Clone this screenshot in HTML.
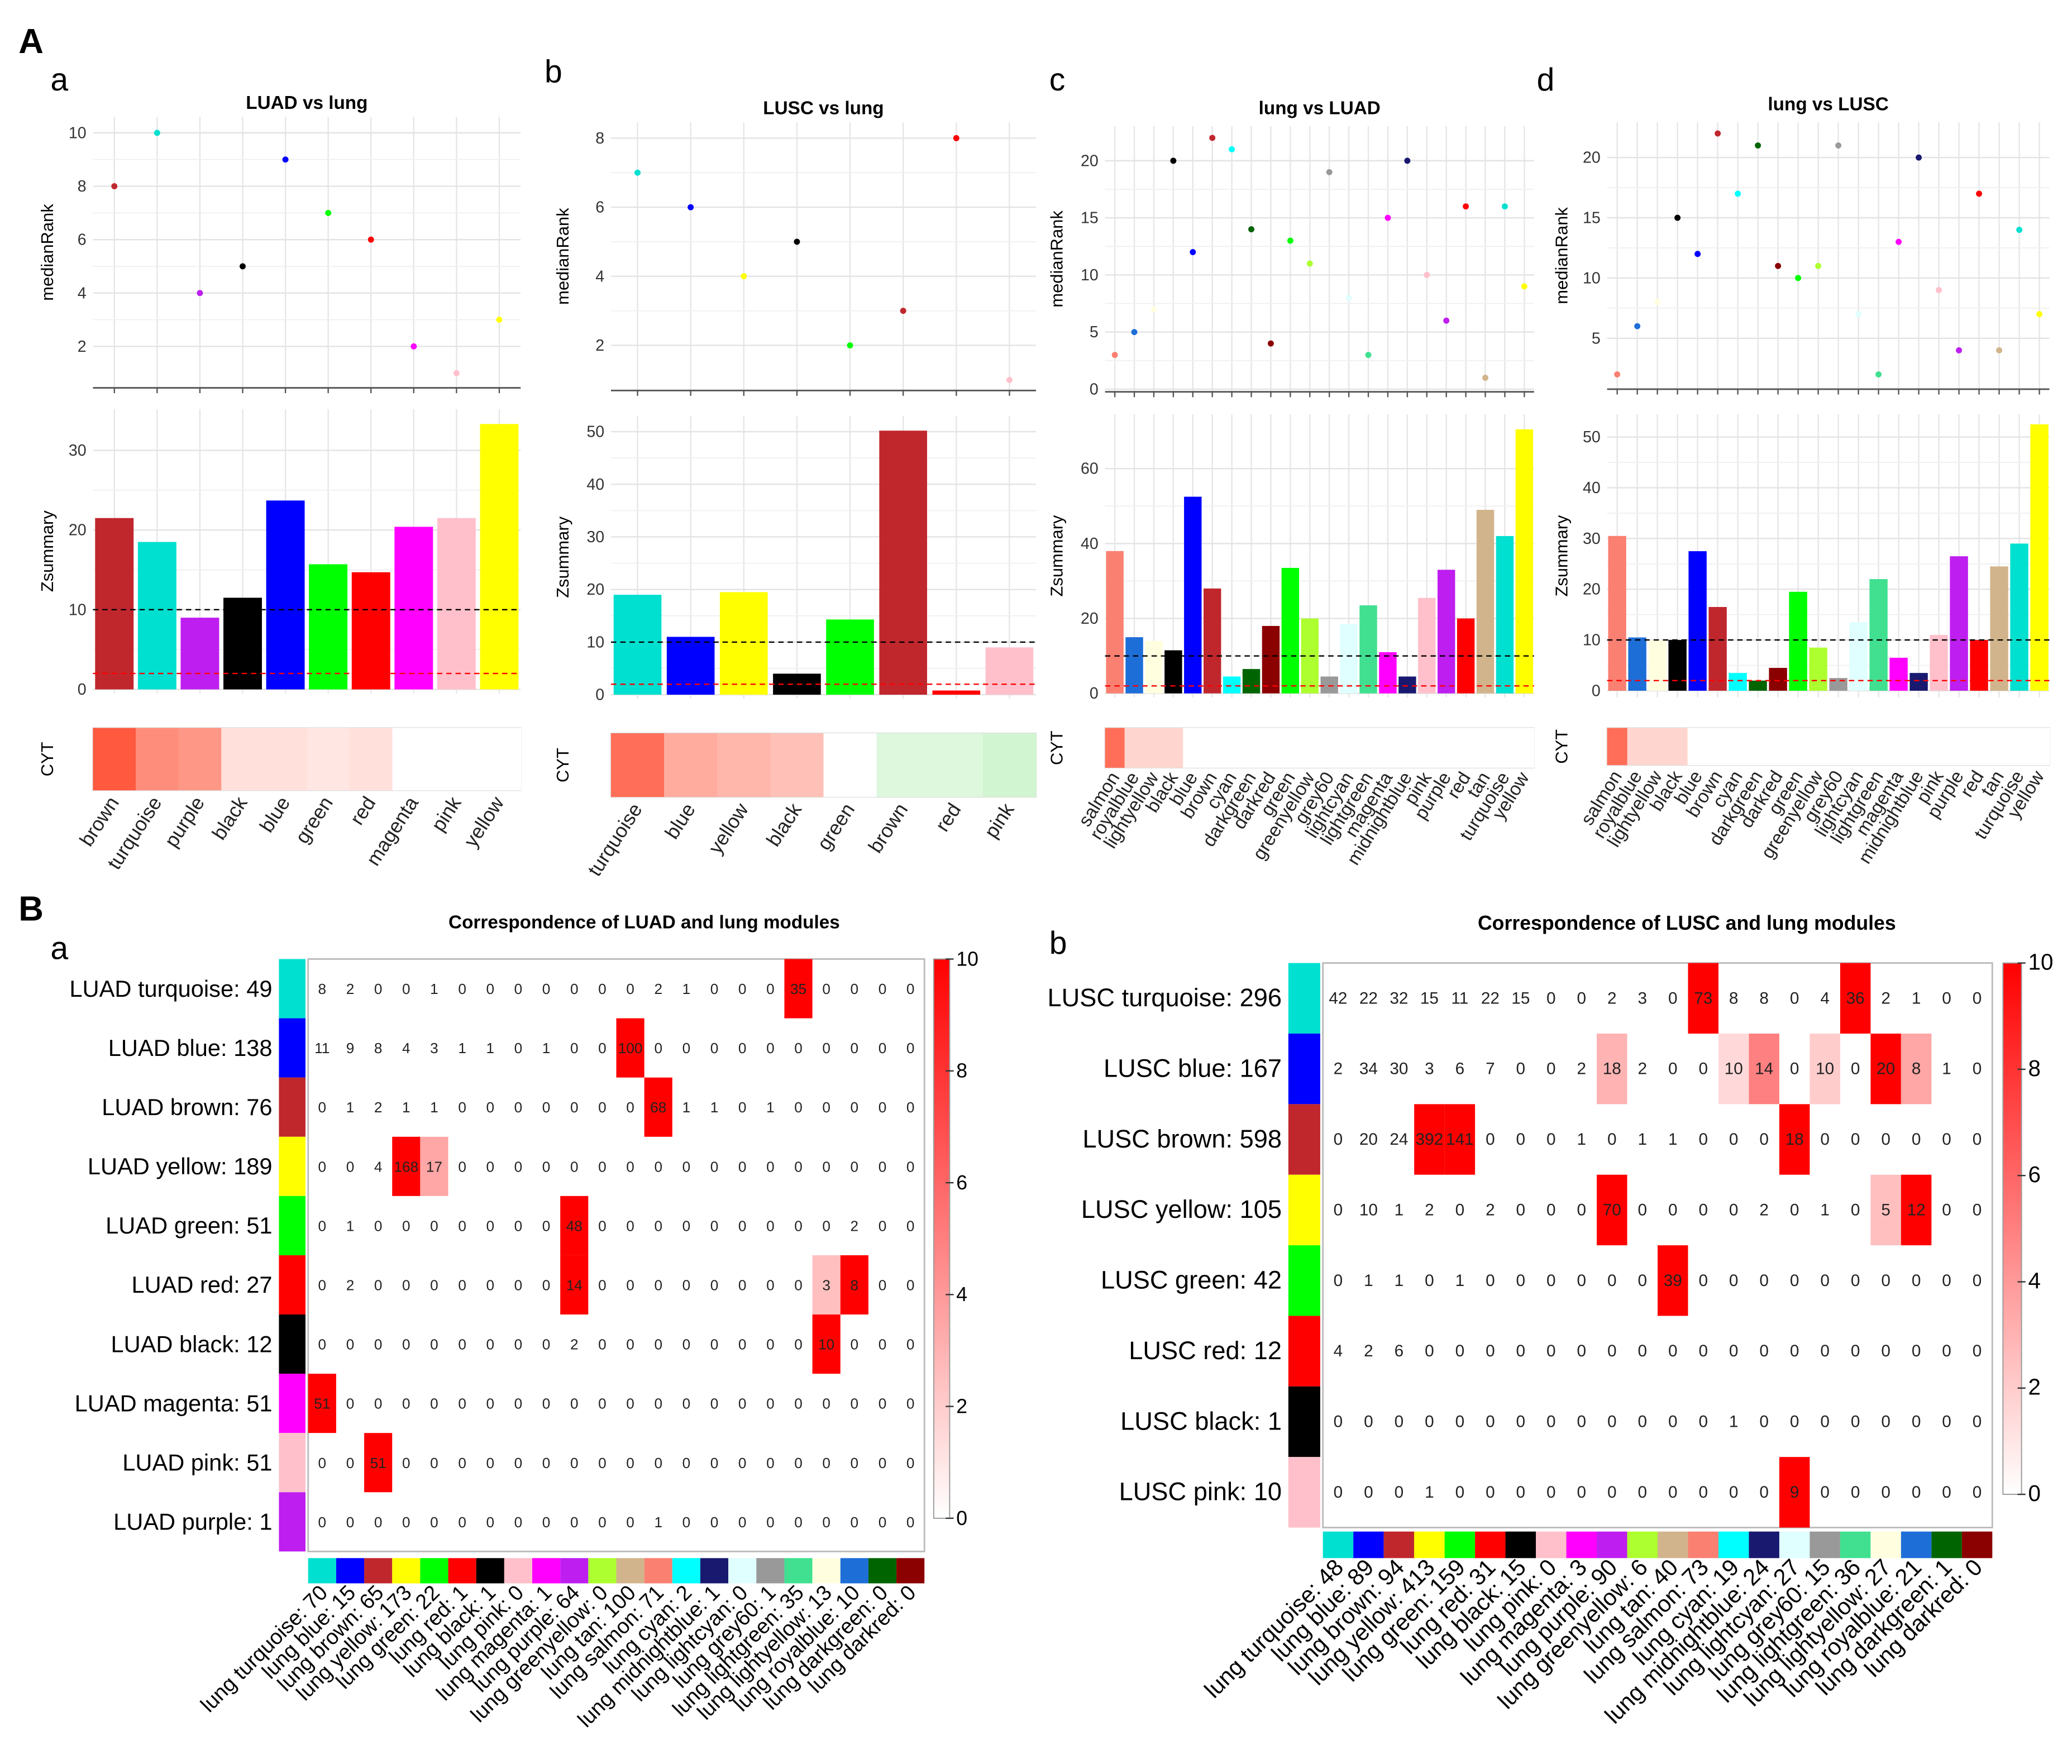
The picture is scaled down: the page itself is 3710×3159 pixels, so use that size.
<!DOCTYPE html>
<html><head><meta charset="utf-8"><style>
html,body{margin:0;padding:0;background:#fff;}
svg{display:block;font-family:"Liberation Sans",sans-serif;}
</style></head><body>
<svg id="fig" width="3710" height="3159" viewBox="0 0 1560 1328" preserveAspectRatio="none" xmlns="http://www.w3.org/2000/svg"></svg>
<script>
// ---------- Data: Panel A ----------
const catA = ['brown','turquoise','purple','black','blue','green','red','magenta','pink','yellow'];
const rankA = [8,10,4,5,9,7,6,2,1,3];
const zsumA = [21.5,18.5,9,11.5,23.7,15.7,14.7,20.4,21.5,33.3];
const cytA = [0.8,0.55,0.5,0.15,0.15,0.12,0.15,0,0,0];

const catB = ['turquoise','blue','yellow','black','green','brown','red','pink'];
const rankB = [7,6,4,5,2,3,8,1];
const zsumB = [19,11,19.5,4,14.3,50.2,0.8,9];
const cytB = [0.7,0.4,0.35,0.3,0,-0.15,-0.15,-0.2];

const catC = ['salmon','royalblue','lightyellow','black','blue','brown','cyan','darkgreen','darkred','green','greenyellow','grey60','lightcyan','lightgreen','magenta','midnightblue','pink','purple','red','tan','turquoise','yellow'];
const rankC = [3,5,7,20,12,22,21,14,4,13,11,19,8,3,15,20,10,6,16,1,16,9];
const zsumC = [38,15,14,11.5,52.5,28,4.5,6.5,18,33.5,20,4.5,18.5,23.5,11,4.5,25.5,33,20,49,42,70.5];
const cytC = [0.7,0.2,0.2,0.2,0,0,0,0,0,0,0,0,0,0,0,0,0,0,0,0,0,0];

const catD = catC.slice();
const rankD = [2,6,8,15,12,22,17,21,11,10,11,21,7,2,13,20,9,4,17,4,14,7];
const zsumD = [30.5,10.5,10,10,27.5,16.5,3.5,2,4.5,19.5,8.5,2.5,13.5,22,6.5,3.5,11,26.5,10,24.5,29,52.5];
const cytD = [0.7,0.2,0.2,0.2,0,0,0,0,0,0,0,0,0,0,0,0,0,0,0,0,0,0];

// ---------- Data: Panel B ----------
const lungMods = ['turquoise','blue','brown','yellow','green','red','black','pink','magenta','purple','greenyellow','tan','salmon','cyan','midnightblue','lightcyan','grey60','lightgreen','lightyellow','royalblue','darkgreen','darkred'];
const luadRows = ['turquoise','blue','brown','yellow','green','red','black','magenta','pink','purple'];
const luadSizes = [49,138,76,189,51,27,12,51,51,1];
const lungSizesA = [70,15,65,173,22,1,1,0,1,64,0,100,71,2,1,0,1,35,13,10,0,0];
const countsA = [
[8,2,0,0,1,0,0,0,0,0,0,0,2,1,0,0,0,35,0,0,0,0],
[11,9,8,4,3,1,1,0,1,0,0,100,0,0,0,0,0,0,0,0,0,0],
[0,1,2,1,1,0,0,0,0,0,0,0,68,1,1,0,1,0,0,0,0,0],
[0,0,4,168,17,0,0,0,0,0,0,0,0,0,0,0,0,0,0,0,0,0],
[0,1,0,0,0,0,0,0,0,48,0,0,0,0,0,0,0,0,0,2,0,0],
[0,2,0,0,0,0,0,0,0,14,0,0,0,0,0,0,0,0,3,8,0,0],
[0,0,0,0,0,0,0,0,0,2,0,0,0,0,0,0,0,0,10,0,0,0],
[51,0,0,0,0,0,0,0,0,0,0,0,0,0,0,0,0,0,0,0,0,0],
[0,0,51,0,0,0,0,0,0,0,0,0,0,0,0,0,0,0,0,0,0,0],
[0,0,0,0,0,0,0,0,0,0,0,0,1,0,0,0,0,0,0,0,0,0]];
const pvalA = [
[0,0,0,0,0,0,0,0,0,0,0,0,0,0,0,0,0,10,0,0,0,0],
[0,0,0,0,0,0,0,0,0,0,0,10,0,0,0,0,0,0,0,0,0,0],
[0,0,0,0,0,0,0,0,0,0,0,0,10,0,0,0,0,0,0,0,0,0],
[0,0,0,10,3.5,0,0,0,0,0,0,0,0,0,0,0,0,0,0,0,0,0],
[0,0,0,0,0,0,0,0,0,10,0,0,0,0,0,0,0,0,0,0,0,0],
[0,0,0,0,0,0,0,0,0,10,0,0,0,0,0,0,0,0,2.5,10,0,0],
[0,0,0,0,0,0,0,0,0,0,0,0,0,0,0,0,0,0,10,0,0,0],
[10,0,0,0,0,0,0,0,0,0,0,0,0,0,0,0,0,0,0,0,0,0],
[0,0,10,0,0,0,0,0,0,0,0,0,0,0,0,0,0,0,0,0,0,0],
[0,0,0,0,0,0,0,0,0,0,0,0,0,0,0,0,0,0,0,0,0,0]];

const luscRows = ['turquoise','blue','brown','yellow','green','red','black','pink'];
const luscSizes = [296,167,598,105,42,12,1,10];
const lungSizesB = [48,89,94,413,159,31,15,0,3,90,6,40,73,19,24,27,15,36,27,21,1,0];
const countsB = [
[42,22,32,15,11,22,15,0,0,2,3,0,73,8,8,0,4,36,2,1,0,0],
[2,34,30,3,6,7,0,0,2,18,2,0,0,10,14,0,10,0,20,8,1,0],
[0,20,24,392,141,0,0,0,1,0,1,1,0,0,0,18,0,0,0,0,0,0],
[0,10,1,2,0,2,0,0,0,70,0,0,0,0,2,0,1,0,5,12,0,0],
[0,1,1,0,1,0,0,0,0,0,0,39,0,0,0,0,0,0,0,0,0,0],
[4,2,6,0,0,0,0,0,0,0,0,0,0,0,0,0,0,0,0,0,0,0],
[0,0,0,0,0,0,0,0,0,0,0,0,0,1,0,0,0,0,0,0,0,0],
[0,0,0,1,0,0,0,0,0,0,0,0,0,0,0,9,0,0,0,0,0,0]];
const pvalB = [
[0,0,0,0,0,0,0,0,0,0,0,0,10,0,0,0,0,10,0,0,0,0],
[0,0,0,0,0,0,0,0,0,3,0,0,0,1.5,5,0,2,0,10,3.5,0,0],
[0,0,0,10,10,0,0,0,0,0,0,0,0,0,0,10,0,0,0,0,0,0],
[0,0,0,0,0,0,0,0,0,10,0,0,0,0,0,0,0,0,2.5,10,0,0],
[0,0,0,0,0,0,0,0,0,0,0,10,0,0,0,0,0,0,0,0,0,0],
[0,0,0,0,0,0,0,0,0,0,0,0,0,0,0,0,0,0,0,0,0,0],
[0,0,0,0,0,0,0,0,0,0,0,0,0,0,0,0,0,0,0,0,0,0],
[0,0,0,0,0,0,0,0,0,0,0,0,0,0,0,10,0,0,0,0,0,0]];
const legendTicks = [0,2,4,6,8,10];

const COL = {turquoise:'#00E0D0',blue:'#0000FF',brown:'#C0272D',yellow:'#FFFF00',green:'#00FF00',red:'#FF0000',black:'#000000',pink:'#FFC0CB',magenta:'#FF00FF',purple:'#BE1EF0',greenyellow:'#ADFF2F',tan:'#D2B48C',salmon:'#FA8072',cyan:'#00FFFF',midnightblue:'#191970',lightcyan:'#E0FFFF',grey60:'#999999',lightgreen:'#40E090',lightyellow:'#FFFFE0',royalblue:'#1E6ED8',darkgreen:'#006400',darkred:'#8B0000'};

const NS='http://www.w3.org/2000/svg';
const svg=document.getElementById('fig');
function mk(tag,attrs,parent,text){const e=document.createElementNS(NS,tag);for(const k in attrs)e.setAttribute(k,attrs[k]);if(text!==undefined)e.textContent=text;(parent||svg).appendChild(e);return e;}
function mix(t,r,g,b){t=Math.max(0,Math.min(1,t));return 'rgb('+Math.round(255+(r-255)*t)+','+Math.round(255+(g-255)*t)+','+Math.round(255+(b-255)*t)+')';}

[['A',14,40,26],['a',38,68,24],['b',410,62,24],['c',790,68,24],['d',1157,68,24],['B',14,693,26],['a',38,722,24],['b',790,718,24]].forEach(p=>{
  const t=mk('text',{x:p[1],y:p[2],'font-size':p[3],'font-weight':(p[0]==='A'||p[0]==='B')?'bold':'normal',fill:'#000'},svg,p[0]);
  
  
});

function panelA(L,cats,rank,zsum,cyt){
  const g=mk('g',{});
  
  
  const n=cats.length, bw=(L.x1-L.x0)/n;
  const cx=i=>L.x0+bw*(i+0.5);
  const ry=v=>L.rZero-L.rK*v, zy=v=>L.zZero-L.zK*v;
  const tt=mk('text',{x:(L.x0+L.x1)/2,y:L.titleY,'text-anchor':'middle','font-size':14,'font-weight':'bold'},g,L.title);
  
  
  for(let i=0;i<n;i++){const l=mk('line',{x1:cx(i),x2:cx(i),y1:L.rTop,y2:L.rBot,stroke:'#E6E6E6','stroke-width':1},g);
    }
  L.rTicks.forEach((v,k)=>{
    const half=(k<L.rTicks.length-1)?(v+L.rTicks[k+1])/2:null;
    const l=mk('line',{x1:L.x0,x2:L.x1,y1:ry(v),y2:ry(v),stroke:'#E3E3E3','stroke-width':1},g);
    
    if(half!==null){const m=mk('line',{x1:L.x0,x2:L.x1,y1:ry(half),y2:ry(half),stroke:'#F0F0F0','stroke-width':0.8},g);
      }
    const t=mk('text',{x:L.x0-5,y:ry(v)+4,'text-anchor':'end','font-size':12,fill:'#333'},g,String(v));
    
  });
  const ax=mk('line',{x1:L.x0,x2:L.x1,y1:L.rBot,y2:L.rBot,stroke:'#555','stroke-width':1.2},g);
  
  for(let i=0;i<n;i++){const tk=mk('line',{x1:cx(i),x2:cx(i),y1:L.rBot,y2:L.rBot+4,stroke:'#555'},g);
    }
  const yt=mk('text',{transform:'translate('+L.yTitleX+','+(L.rTop+L.rBot)/2+') rotate(-90)','text-anchor':'middle','font-size':13},g,'medianRank');
  
  rank.forEach((v,i)=>{const c=mk('circle',{cx:cx(i),cy:ry(v),r:2.3,fill:COL[cats[i]]},g);
    });
  for(let i=0;i<n;i++){const l=mk('line',{x1:cx(i),x2:cx(i),y1:L.zTop,y2:L.zBot,stroke:'#E6E6E6'},g);
    }
  L.zTicks.forEach((v,k)=>{
    const l=mk('line',{x1:L.x0,x2:L.x1,y1:zy(v),y2:zy(v),stroke:'#E3E3E3'},g);
    
    if(k<L.zTicks.length-1){const h=(v+L.zTicks[k+1])/2;const m=mk('line',{x1:L.x0,x2:L.x1,y1:zy(h),y2:zy(h),stroke:'#F0F0F0','stroke-width':0.8},g);
      }
    const t=mk('text',{x:L.x0-5,y:zy(v)+4,'text-anchor':'end','font-size':12,fill:'#333'},g,String(v));
    
  });
  const yt2=mk('text',{transform:'translate('+L.yTitleX+','+(L.zTop+L.zBot)/2+') rotate(-90)','text-anchor':'middle','font-size':13},g,'Zsummary');
  
  zsum.forEach((v,i)=>{const r=mk('rect',{x:cx(i)-bw*0.45,y:zy(v),width:bw*0.9,height:zy(0)-zy(v),fill:COL[cats[i]]},g);
    });
  const d1=mk('line',{x1:L.x0,x2:L.x1,y1:zy(10),y2:zy(10),stroke:'#000','stroke-dasharray':'4,3','stroke-width':1},g);
  
  const d2=mk('line',{x1:L.x0,x2:L.x1,y1:zy(2),y2:zy(2),stroke:'#FF0000','stroke-dasharray':'4,3','stroke-width':1},g);
  
  const sb=mk('rect',{x:L.x0,y:L.cTop,width:L.x1-L.x0,height:L.cBot-L.cTop,fill:'#fff',stroke:'#DDD'},g);
  
  cyt.forEach((v,i)=>{const f=v>=0?mix(v/0.8*0.85,255,60,30):mix(-v/0.2*0.18,0,200,0);
    const r=mk('rect',{x:L.x0+bw*i,y:L.cTop,width:bw+0.3,height:L.cBot-L.cTop,fill:f},g);
    });
  const yt3=mk('text',{transform:'translate('+L.yTitleX+','+(L.cTop+L.cBot)/2+') rotate(-90)','text-anchor':'middle','font-size':13},g,'CYT');
  
  cats.forEach((c,i)=>{const t=mk('text',{transform:'translate('+(cx(i)+4)+','+L.labY+') rotate('+L.rot+')','text-anchor':'end','font-size':L.labFs,fill:'#222'},g,c);
    });
}
panelA({id:'a',title:'LUAD vs lung',titleY:82,x0:70,x1:392,rTop:88,rBot:292,rZero:301,rK:20.1,rTicks:[2,4,6,8,10],zTop:308,zBot:522,zZero:519,zK:6,zTicks:[0,10,20,30],cTop:548,cBot:595,yTitleX:40,labY:604,rot:-57,labFs:15},catA,rankA,zsumA,cytA);
panelA({id:'b',title:'LUSC vs lung',titleY:86,x0:460,x1:780,rTop:92,rBot:294,rZero:312,rK:26,rTicks:[2,4,6,8],zTop:313,zBot:526,zZero:523,zK:3.96,zTicks:[0,10,20,30,40,50],cTop:552,cBot:600,yTitleX:428,labY:609,rot:-57,labFs:15},catB,rankB,zsumB,cytB);
panelA({id:'c',title:'lung vs LUAD',titleY:86,x0:832,x1:1155,rTop:95,rBot:295,rZero:293,rK:8.6,rTicks:[0,5,10,15,20],zTop:312,zBot:525,zZero:522,zK:2.82,zTicks:[0,20,40,60],cTop:548,cBot:578,yTitleX:800,labY:585,rot:-58,labFs:14},catC,rankC,zsumC,cytC);
panelA({id:'d',title:'lung vs LUSC',titleY:83,x0:1210,x1:1543,rTop:92,rBot:293,rZero:300,rK:9.07,rTicks:[5,10,15,20],zTop:312,zBot:525,zZero:520,zK:3.82,zTicks:[0,10,20,30,40,50],cTop:548,cBot:576,yTitleX:1180,labY:584,rot:-58,labFs:14},catD,rankD,zsumD,cytD);

function heat(L,prefix,rows,sizes,lsizes,counts,pv){
  const g=mk('g',{});
  
  
  const nr=rows.length,nc=lungMods.length;
  const cw=(L.x1-L.x0)/nc, rh=(L.y1-L.y0)/nr;
  const t=mk('text',{x:L.titleX,y:L.titleY,'text-anchor':'middle','font-size':L.titleFs,'font-weight':'bold'},g,'Correspondence of '+prefix+' and lung modules');
  
  const bd=mk('rect',{x:L.x0,y:L.y0,width:L.x1-L.x0,height:L.y1-L.y0,fill:'#fff',stroke:'#BBB','stroke-width':1.2},g);
  
  rows.forEach((r,i)=>{
    const s=mk('rect',{x:L.sx,y:L.y0+rh*i,width:L.x0-L.sx-2,height:rh,fill:COL[r]},g);
    
    const lb=mk('text',{x:L.sx-5,y:L.y0+rh*(i+0.5)+6,'text-anchor':'end','font-size':L.rowFs},g,prefix+' '+r+': '+sizes[i]);
    
    for(let j=0;j<nc;j++){
      const v=pv[i][j];
      if(v>0){const c=mk('rect',{x:L.x0+cw*j,y:L.y0+rh*i,width:cw,height:rh,fill:mix(v/10,255,0,0)},g);
        }
      const n=mk('text',{x:L.x0+cw*(j+0.5),y:L.y0+rh*(i+0.5)+4,'text-anchor':'middle','font-size':L.numFs,fill:'#222'},g,String(counts[i][j]));
      
    }
  });
  lungMods.forEach((m,j)=>{
    const s=mk('rect',{x:L.x0+cw*j,y:L.by0,width:cw,height:L.by1-L.by0,fill:COL[m]},g);
    
    const lb=mk('text',{transform:'translate('+(L.x0+cw*(j+0.5)+5)+','+(L.by1+8)+') rotate(-45)','text-anchor':'end','font-size':L.colFs},g,'lung '+m+': '+lsizes[j]);
    
  });
  const gid='lg'+prefix;
  const defs=mk('defs',{},g);
  const lg=mk('linearGradient',{id:gid,x1:0,y1:1,x2:0,y2:0},defs);
  mk('stop',{offset:'0','stop-color':'#fff'},lg);mk('stop',{offset:'1','stop-color':'#f00'},lg);
  const lr=mk('rect',{x:L.lx,y:L.ly0,width:L.lw,height:L.ly1-L.ly0,fill:'url(#'+gid+')',stroke:'#999','stroke-width':0.8},g);
  
  legendTicks.forEach(v=>{const y=L.ly1-(L.ly1-L.ly0)*v/10;
    const tk=mk('line',{x1:L.lx+L.lw-3,x2:L.lx+L.lw+3,y1:y,y2:y,stroke:'#333'},g);
    
    const tl=mk('text',{x:L.lx+L.lw+5,y:y+5,'font-size':L.legFs},g,String(v));
    });
}
heat({x0:232,x1:696,y0:722,y1:1168,sx:210,titleX:485,titleY:699,titleFs:14,rowFs:17.5,numFs:11,colFs:16,by0:1173,by1:1192,lx:703,lw:12,ly0:722,ly1:1143,legFs:15},'LUAD',luadRows,luadSizes,lungSizesA,countsA,pvalA);
heat({x0:996,x1:1500,y0:725,y1:1150,sx:970,titleX:1270,titleY:700,titleFs:15,rowFs:19,numFs:12.5,colFs:17.5,by0:1153,by1:1173,lx:1508,lw:14,ly0:725,ly1:1125,legFs:17},'LUSC',luscRows,luscSizes,lungSizesB,countsB,pvalB);
</script>
</body></html>
